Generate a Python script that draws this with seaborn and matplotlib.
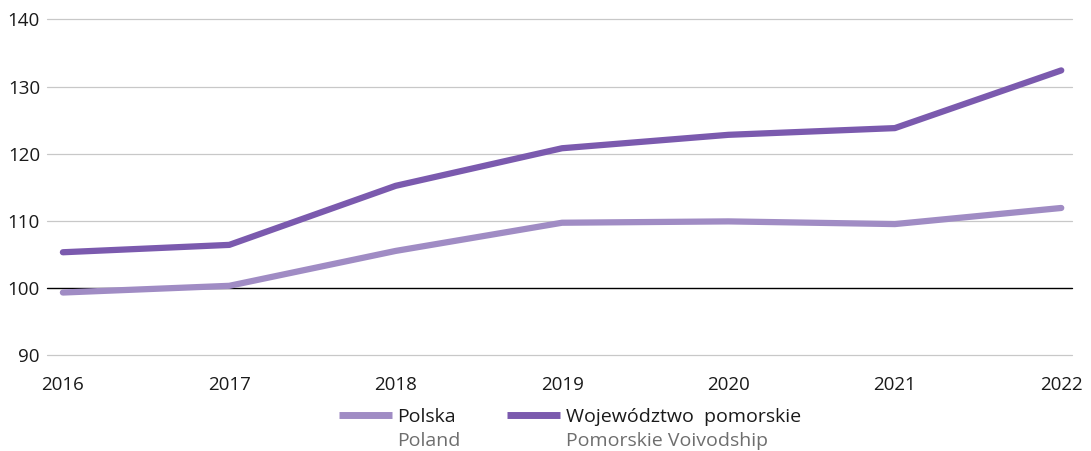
import matplotlib
matplotlib.use("Agg")
import matplotlib.pyplot as plt
from matplotlib.lines import Line2D
import seaborn as sns
import pandas as pd

years = [2016, 2017, 2018, 2019, 2020, 2021, 2022]
polska = [99.3, 100.3, 105.5, 109.7, 109.9, 109.5, 111.9]
pomorskie = [105.3, 106.4, 115.2, 120.8, 122.8, 123.8, 132.4]
y_ticks = [90, 100, 110, 120, 130, 140]

series_names = ["Polska", "Województwo  pomorskie"]
series_names_en = ["Poland", "Pomorskie Voivodship"]
colors = ["#a08cc4", "#7b5aae"]

df = pd.DataFrame({
    "year": years * 2,
    "value": polska + pomorskie,
    "series": [series_names[0]] * len(years) + [series_names[1]] * len(years),
})

sns.set_theme(style="white")
plt.rcParams["font.family"] = ["Open Sans", "DejaVu Sans"]

fig = plt.figure(figsize=(10.91, 4.51), dpi=100)
ax = fig.add_axes([0.043, 0.213, 0.9398, 0.744])

for y in y_ticks:
    ax.axhline(y, color="black" if y == 100 else "#c8c8c8",
               lw=1.0 if y == 100 else 0.9, zorder=1, clip_on=False)

sns.lineplot(data=df, x="year", y="value", hue="series", palette=colors,
             hue_order=series_names, lw=4.5, ax=ax, legend=False,
             solid_capstyle="round", zorder=3)

ax.set_xlim(2015.904, 2022.066)
ax.set_ylim(90, 140)
ax.set_yticks(y_ticks)
ax.set_xticks(years)
ax.set_xticklabels([str(y) for y in years])
ax.set_xlabel("")
ax.set_ylabel("")
for s in ax.spines.values():
    s.set_visible(False)
ax.tick_params(axis="both", length=0, labelsize=13.5, colors="#1a1a1a")
ax.tick_params(axis="y", pad=5)
ax.tick_params(axis="x", pad=15)
ax.grid(False)

# legend drawn in figure coordinates
W, H = 1091, 451
legend_items = [(339, 397), (507, 566)]
for (x0, xt), name, name_en, c in zip(legend_items, series_names, series_names_en, colors):
    fig.add_artist(Line2D([x0 / W, (x0 + 53) / W], [1 - 415 / H, 1 - 415 / H],
                          color=c, lw=5.0, solid_capstyle="butt"))
    fig.text(xt / W, 1 - 417 / H, name, fontsize=14, color="#1a1a1a", va="center", ha="left")
    fig.text(xt / W, 1 - 441 / H, name_en, fontsize=14, color="#6e6e6e", va="center", ha="left")

fig.savefig("out.png", dpi=100)
